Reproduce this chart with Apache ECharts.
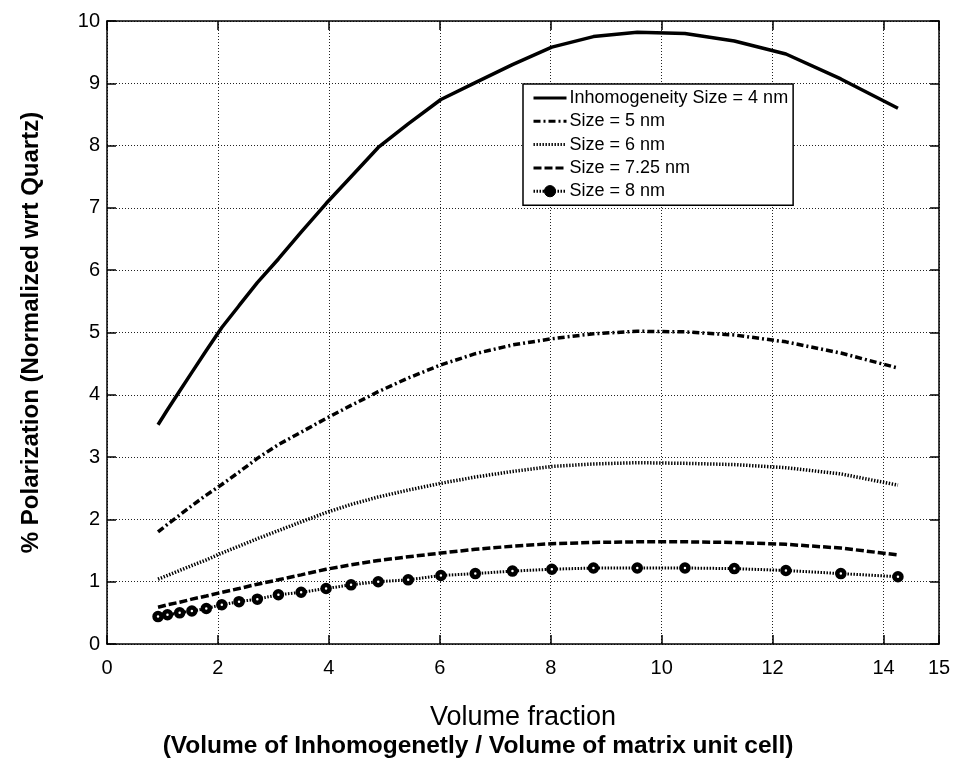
<!DOCTYPE html>
<html>
<head>
<meta charset="utf-8">
<script src="https://cdn.jsdelivr.net/npm/echarts@6/dist/echarts.min.js"></script>
<style>
  html, body { margin: 0; padding: 0; background: #fff; }
  #chart { width: 954px; height: 760px; }
</style>
</head>
<body>
<div id="chart"></div>
<script>
const volFraction = [0.92, 1.09, 1.31, 1.53, 1.79, 2.07, 2.38, 2.71, 3.09, 3.50, 3.95, 4.40, 4.89,
  5.43, 6.02, 6.64, 7.31, 8.02, 8.77, 9.56, 10.42, 11.31, 12.24, 13.23, 14.26];

const size4 = [3.52, 3.76, 4.06, 4.36, 4.71, 5.08, 5.43, 5.80, 6.18, 6.61, 7.07, 7.50, 7.97,
  8.35, 8.74, 9.01, 9.30, 9.58, 9.75, 9.82, 9.80, 9.68, 9.47, 9.07, 8.60];
const size5 = [1.80, 1.92, 2.07, 2.22, 2.39, 2.56, 2.76, 2.98, 3.20, 3.40, 3.62, 3.83, 4.05,
  4.27, 4.48, 4.66, 4.80, 4.90, 4.98, 5.02, 5.01, 4.96, 4.85, 4.67, 4.43];
const size6 = [1.04, 1.10, 1.18, 1.26, 1.35, 1.46, 1.57, 1.69, 1.82, 1.96, 2.11, 2.24, 2.36,
  2.47, 2.58, 2.68, 2.77, 2.85, 2.89, 2.91, 2.90, 2.88, 2.83, 2.73, 2.55];
const size725 = [0.59, 0.63, 0.67, 0.72, 0.77, 0.83, 0.89, 0.96, 1.03, 1.11, 1.20, 1.27, 1.34,
  1.40, 1.46, 1.52, 1.57, 1.61, 1.63, 1.64, 1.64, 1.63, 1.60, 1.54, 1.43];
const size8 = [0.44, 0.47, 0.50, 0.53, 0.57, 0.63, 0.68, 0.72, 0.79, 0.83, 0.89, 0.95, 1.00,
  1.03, 1.10, 1.13, 1.17, 1.20, 1.22, 1.22, 1.22, 1.21, 1.18, 1.13, 1.08];

const seriesNames = ['Inhomogeneity Size = 4 nm', 'Size = 5 nm', 'Size = 6 nm', 'Size = 7.25 nm', 'Size = 8 nm'];

const pairs = ys => volFraction.map((x, i) => [x, ys[i]]);

const font = 'Liberation Sans, Arial, sans-serif';
const gridLine = () => ({ show: true, lineStyle: { color: '#222', width: 1, type: [1, 2] } });
const tick = () => ({ show: true, inside: true, length: 9, lineStyle: { color: '#000', width: 1.5 } });
const axLine = () => ({ show: true, onZero: false, lineStyle: { color: '#000', width: 1.5 } });
// line-only legend entries (hide the symbol ECharts puts on line icons)
const noDot = { color: 'rgba(0,0,0,0)', borderWidth: 0 };

const chart = echarts.init(document.getElementById('chart'));
chart.setOption({
  animation: false,
  backgroundColor: '#fff',
  textStyle: { fontFamily: font },
  grid: { left: 107, right: 15, top: 21, bottom: 116, outerBoundsMode: 'none' },
  legend: {
    orient: 'vertical',
    left: 523,
    top: 84,
    padding: [5, 5, 5, 9],
    itemGap: 5.3,
    itemWidth: 33,
    itemHeight: 14,
    backgroundColor: '#fff',
    borderColor: '#000',
    borderWidth: 1.5,
    lineStyle: { width: 3 },
    textStyle: { fontFamily: font, fontSize: 18, color: '#000', lineHeight: 18, padding: [0, 0, 0, -2] },
    data: [
      { name: seriesNames[0], itemStyle: noDot },
      { name: seriesNames[1], itemStyle: noDot },
      { name: seriesNames[2], itemStyle: noDot },
      { name: seriesNames[3], itemStyle: noDot },
      { name: seriesNames[4], itemStyle: { color: '#000', borderColor: '#000', borderWidth: 1 } }
    ]
  },
  xAxis: [
    {
      type: 'value', min: 0, max: 15, interval: 2,
      axisLine: axLine(), axisTick: tick(), splitLine: gridLine(),
      axisLabel: { fontSize: 20, color: '#000', margin: 14, fontFamily: font },
      name: '{a|Volume fraction}\n{b|(Volume of Inhomogenetly / Volume of matrix unit cell)}',
      nameLocation: 'middle',
      nameGap: 60,
      nameTextStyle: {
        color: '#000',
        rich: {
          a: { fontSize: 27, fontFamily: font, color: '#000', lineHeight: 28 },
          b: { fontSize: 24.5, fontFamily: font, fontWeight: 'bold', color: '#000', lineHeight: 28, padding: [0, 90, 0, 0] }
        }
      }
    },
    {
      type: 'value', position: 'top', min: 0, max: 15, interval: 2,
      axisLine: axLine(), axisTick: tick(), splitLine: { show: false }, axisLabel: { show: false }
    }
  ],
  yAxis: [
    {
      type: 'value', min: 0, max: 10, interval: 1,
      axisLine: axLine(), axisTick: tick(), splitLine: gridLine(),
      axisLabel: { fontSize: 20, color: '#000', margin: 7, fontFamily: font },
      name: '% Polarization (Normalized wrt Quartz)',
      nameLocation: 'middle',
      nameGap: 64,
      nameTextStyle: { fontSize: 24, fontWeight: 'bold', color: '#000', fontFamily: font }
    },
    {
      type: 'value', position: 'right', min: 0, max: 10, interval: 1,
      axisLine: axLine(), axisTick: tick(), splitLine: { show: false }, axisLabel: { show: false }
    }
  ],
  series: [
    {
      name: seriesNames[0], type: 'line', symbol: 'none', data: pairs(size4),
      lineStyle: { color: '#000', width: 3.5, type: 'solid' }
    },
    {
      name: seriesNames[1], type: 'line', symbol: 'none', data: pairs(size5),
      lineStyle: { color: '#000', width: 3.5, type: [7, 3, 2, 3] }
    },
    {
      name: seriesNames[2], type: 'line', symbol: 'none', data: pairs(size6),
      lineStyle: { color: '#000', width: 3.5, type: [1.4, 1.6] }
    },
    {
      name: seriesNames[3], type: 'line', symbol: 'none', data: pairs(size725),
      lineStyle: { color: '#000', width: 3.5, type: [8, 3] }
    },
    {
      name: seriesNames[4], type: 'line', symbol: 'circle', symbolSize: 7, data: pairs(size8),
      lineStyle: { color: '#000', width: 3, type: [1.5, 1.5] },
      itemStyle: { color: '#fff', borderColor: '#000', borderWidth: 4.5 }
    }
  ]
});
</script>
</body>
</html>
